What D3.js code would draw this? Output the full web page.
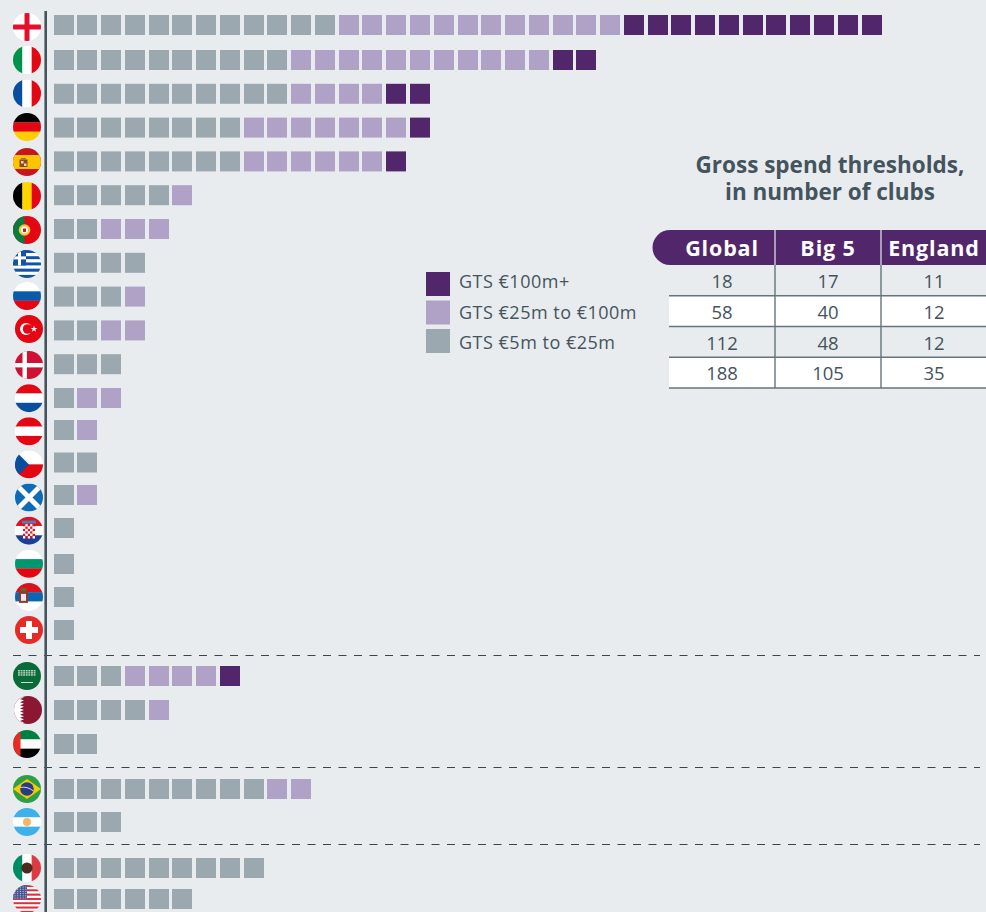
<!DOCTYPE html>
<html><head><meta charset="utf-8">
<style>html,body{margin:0;padding:0;background:#e8ecef;overflow:hidden}svg{display:block}text{font-family:"Open Sans","Noto Sans",sans-serif}</style>
<script src="https://cdn.jsdelivr.net/npm/d3@7"></script></head><body>
<script>
// ---- data ----
const countries = ["England","Italy","France","Germany","Spain","Belgium","Portugal","Greece","Russia","Turkey","Denmark","Netherlands","Austria","Czechia","Scotland","Croatia","Bulgaria","Serbia","Switzerland","Saudi Arabia","Qatar","UAE","Brazil","Argentina","Mexico","USA"];
const tierGrey  = [12,10,10,8,8,5,2,4,3,2,3,1,1,2,1,1,1,1,1,3,4,2,9,3,9,6];
const tierLight = [12,11,4,7,6,1,3,0,1,2,0,2,1,0,1,0,0,0,0,4,1,0,2,0,0,0];
const tierDark  = [11,2,2,1,1,0,0,0,0,0,0,0,0,0,0,0,0,0,0,1,0,0,0,0,0,0];
const legendLabels = ["GTS €100m+","GTS €25m to €100m","GTS €5m to €25m"];
const tableTitle = ["Gross spend thresholds,","in number of clubs"];
const tableHeaders = ["Global","Big 5","England"];
const tableValues = [[18,17,11],[58,40,12],[112,48,12],[188,105,35]];
const separatorsAfter = ["Switzerland","UAE","Argentina"];

// ---- styles ----
const W=986,H=912,C={bg:"#e8ecef",dark:"#52266b",light:"#b0a1c7",grey:"#9ca8af",ink:"#44545d",rule:"#66757c"};
const svg=d3.select("body").append("svg").attr("width",W).attr("height",H);
svg.append("rect").attr("width",W).attr("height",H).attr("fill",C.bg);

// ---- scales ----
const x=d3.scaleLinear().domain([0,34]).range([54,862]);
const y=d3.scaleLinear().domain([0,1,11,12,14,15,16,17,18,19,21,22,23,24,25]).range([15,50,388,420,485,518,554,587,620,666,734,779,812,858,889]);
const flagY=d3.scaleLinear().domain([0,1,3,4,7,8,9,10,18,19,21,22,23,24,25]).range([27,60,127,162,264,296,329,365,630,676,744,789,822,868,899]);
const flagX=d3.scaleThreshold().domain([9,19,20,21]).range([27,29,27,28,27]);
const tierColor=d3.scaleOrdinal().domain(["grey","light","dark"]).range([C.grey,C.light,C.dark]);
const SIZE=20;

// ---- squares ----
const cells=[];
countries.forEach((c,r)=>{
  let i=0;
  [["grey",tierGrey[r]],["light",tierLight[r]],["dark",tierDark[r]]].forEach(([t,n])=>{
    d3.range(n).forEach(()=>cells.push({r,i:i++,t}));
  });
});
svg.append("g").selectAll("rect").data(cells).join("rect")
  .attr("x",d=>Math.floor(x(d.i))).attr("y",d=>y(d.r)).attr("width",SIZE).attr("height",SIZE).attr("fill",d=>tierColor(d.t));

// ---- separators and axis ----
const sepY=[655.5,767.5,844.5];
svg.append("g").selectAll("line").data(separatorsAfter).join("line")
  .attr("x1",13).attr("x2",980).attr("y1",(d,i)=>sepY[i]).attr("y2",(d,i)=>sepY[i])
  .attr("stroke","#3a464d").attr("stroke-width",1).attr("stroke-dasharray","8 7.5");
svg.append("line").attr("x1",45.7).attr("x2",45.7).attr("y1",11).attr("y2",H).attr("stroke","#44545d").attr("stroke-width",2.6);

// ---- flags ----
const R=14;
const defs=svg.append("defs");
defs.append("clipPath").attr("id","flagClip").append("circle").attr("r",R);
const rect=(g,x0,y0,w,h,f)=>g.append("rect").attr("x",x0).attr("y",y0).attr("width",w).attr("height",h).attr("fill",f);
const hs=(g,cols)=>cols.forEach((c,i)=>rect(g,-R,-R+i*2*R/cols.length,2*R,2*R/cols.length+.2,c));
const vs=(g,cols)=>cols.forEach((c,i)=>rect(g,-R+i*2*R/cols.length,-R,2*R/cols.length+.2,2*R,c));
const flags={
 England:g=>{rect(g,-R,-R,28,28,"#fff");rect(g,-R,-2.5,28,5,"#e30f2c");rect(g,-2.5,-R,5,28,"#e30f2c")},
 Italy:g=>vs(g,["#00924a","#fff","#e30613"]),
 France:g=>vs(g,["#0a4ea2","#fff","#e30613"]),
 Germany:g=>hs(g,["#000","#e30613","#ffcc00"]),
 Spain:g=>{rect(g,-R,-R,28,28,"#c4161c");rect(g,-R,-7,28,14,"#ffc400");rect(g,-7.5,-2.5,8,7.5,"#8c4a2a");rect(g,-6,-1,2.5,2.5,"#e8d9b0");rect(g,-3,1.5,2.5,2.5,"#e8d9b0");rect(g,-6,-4,5,1.6,"#a8702a")},
 Belgium:g=>vs(g,["#000","#ffd500","#e30613"]),
 Portugal:g=>{rect(g,-R,-R,28,28,"#e30613");rect(g,-R,-R,11.5,28,"#0a7a3e");g.append("circle").attr("cx",-2.5).attr("r",5.8).attr("fill","#f3c53c");g.append("circle").attr("cx",-2.5).attr("r",3.4).attr("fill","#fff");rect(g,-4,-1.5,3,3.4,"#c4161c")},
 Greece:g=>{d3.range(9).forEach(i=>rect(g,-R,-R+i*28/9,28,28/9+.1,i%2?"#fff":"#1254a4"));rect(g,-R,-R,13,15.5,"#1254a4");rect(g,-R,-7.6,13,3,"#fff");rect(g,-9,-R,3,15.5,"#fff")},
 Russia:g=>hs(g,["#fff","#0a5aab","#e30613"]),
 Turkey:g=>{rect(g,-R,-R,28,28,"#e30613");g.append("circle").attr("cx",-3).attr("r",6).attr("fill","#fff");g.append("circle").attr("cx",-1.4).attr("r",4.8).attr("fill","#e30613");g.append("path").attr("d",d3.symbol(d3.symbolStar,14)()).attr("transform","translate(5,0)").attr("fill","#fff")},
 Denmark:g=>{rect(g,-R,-R,28,28,"#cf1233");rect(g,-R,-2,28,4.4,"#fff");rect(g,-6.5,-R,4.4,28,"#fff")},
 Netherlands:g=>hs(g,["#e30613","#fff","#0a4f9e"]),
 Austria:g=>hs(g,["#e30613","#fff","#e30613"]),
 Czechia:g=>{rect(g,-R,-R,28,14,"#fff");rect(g,-R,0,28,14,"#e30613");g.append("path").attr("d","M-14,-14L0,0L-14,14Z").attr("fill","#0a4f9e")},
 Scotland:g=>{rect(g,-R,-R,28,28,"#0d6cb5");g.append("path").attr("d","M-14,-14L14,14M14,-14L-14,14").attr("stroke","#fff").attr("stroke-width",5)},
 Croatia:g=>{hs(g,["#e30f22","#fff","#1a3f96"]);d3.range(5).forEach(a=>d3.range(6).forEach(b=>rect(g,-6+a*2.4,-6.5+b*2.4,2.4,2.4,(a+b)%2?"#fff":"#d9121f")));rect(g,-7,-10,14,3,"#4a7fb8")},
 Bulgaria:g=>hs(g,["#fff","#00966e","#e30613"]),
 Serbia:g=>{hs(g,["#d9121f","#0c65ae","#fff"]);rect(g,-10,-6,9,12,"#8c3a2a");rect(g,-8,-3,5,7,"#e8e8ee");rect(g,-8.5,-9,6,3.5,"#7a5a2a")},
 Switzerland:g=>{rect(g,-R,-R,28,28,"#e62a26");rect(g,-9,-3,18,6,"#fff");rect(g,-3,-9,6,18,"#fff")},
 "Saudi Arabia":g=>{rect(g,-R,-R,28,28,"#0b6b38");d3.range(3).forEach(b=>d3.range(7).forEach(a=>rect(g,-9+a*2.6,-6+b*2.1,1.9,1.5,"#b5d3bb")));rect(g,-6,6,12,.9,"#dfeee0")},
 Qatar:g=>{rect(g,-R,-R,28,28,"#8c1732");const p=[[-14,-14]];d3.range(9).forEach(i=>{p.push([-4,-14+i*28/9+1.5]);p.push([-8,-14+(i+1)*28/9])});p.push([-14,14]);g.append("path").attr("d",d3.line()(p)+"Z").attr("fill","#fff")},
 UAE:g=>{hs(g,["#00803e","#fafafa","#000"]);rect(g,-R,-R,7.5,28,"#e62a26")},
 Brazil:g=>{rect(g,-R,-R,28,28,"#2f9e44");g.append("path").attr("d","M-14,0L0,-10L14,0L0,10Z").attr("fill","#f2cd00");g.append("circle").attr("r",6.8).attr("fill","#2b3a85");g.append("path").attr("d","M-6.5,-1.5Q0,-3 6.5,2").attr("stroke","#fff").attr("stroke-width",.8).attr("fill","none")},
 Argentina:g=>{hs(g,["#3eb1e8","#fff","#3eb1e8"]);g.append("circle").attr("r",4).attr("fill","#f5b565")},
 Mexico:g=>{vs(g,["#008c62","#fff","#dc3b43"]);g.append("circle").attr("r",5.6).attr("fill","#4a2b1e")},
 USA:g=>{d3.range(13).forEach(i=>rect(g,-R,-R+i*28/13,28,28/13+.1,i%2?"#fff":"#d9323e"));rect(g,-R,-R,14,14,"#4a5a94");d3.range(5).forEach(a=>d3.range(6).forEach(b=>g.append("circle").attr("cx",-12+a*2.7).attr("cy",-12+b*2.2).attr("r",.5).attr("fill","#dfe3f0")))}
};
const fg=svg.append("g").selectAll("g").data(countries).join("g")
  .attr("transform",(d,i)=>`translate(${flagX(i)},${flagY(i)})`);
fg.append("g").attr("clip-path","url(#flagClip)").each(function(d){flags[d](d3.select(this))});

// ---- legend ----
const legendY=d3.scalePoint().domain(legendLabels).range([272,329]);
const legendTextY=d3.scalePoint().domain(legendLabels).range([288,349]);
const lg=svg.append("g");
lg.selectAll("rect").data(legendLabels).join("rect").attr("x",426).attr("y",d=>legendY(d)).attr("width",24).attr("height",24).attr("fill",(d,i)=>[C.dark,C.light,C.grey][i]);
lg.selectAll("text").data(legendLabels).join("text").attr("x",459).attr("y",d=>legendTextY(d)).attr("font-size",18).attr("letter-spacing",.5).attr("fill",C.ink).text(d=>d);

// ---- title ----
svg.append("text").attr("text-anchor","middle").attr("font-size",22.5).attr("font-weight",700).attr("fill",C.ink)
  .selectAll("tspan").data(tableTitle).join("tspan").attr("x",830).attr("y",(d,i)=>172.5+i*27).text(d=>d);

// ---- table ----
const colX=d3.scalePoint().domain(tableHeaders).range([722,934]);
const rowY=d3.scaleLinear().domain([0,4]).range([265,388]);
const t=svg.append("g");
t.append("path").attr("d","M986,230H670a17.5,17.5 0 0 0 0,35H986Z").attr("fill",C.dark);
t.selectAll("rect.r").data(tableValues).join("rect").attr("class","r")
  .attr("x",669).attr("width",W-669).attr("y",(d,i)=>rowY(i)).attr("height",rowY(1)-rowY(0)).attr("fill",(d,i)=>i%2?"#fff":C.bg);
t.selectAll("line.h").data(d3.range(1,5)).join("line").attr("class","h")
  .attr("x1",669).attr("x2",W).attr("y1",d=>rowY(d)).attr("y2",d=>rowY(d)).attr("stroke",C.rule).attr("stroke-width",1.7);
[775,881].forEach(v=>{
  t.append("line").attr("x1",v).attr("x2",v).attr("y1",230).attr("y2",265).attr("stroke","#e8ecef").attr("stroke-width",1.2);
  t.append("line").attr("x1",v).attr("x2",v).attr("y1",265).attr("y2",388).attr("stroke",C.rule).attr("stroke-width",1.4);
});
t.selectAll("text.hd").data(tableHeaders).join("text").attr("class","hd")
  .attr("x",d=>colX(d)).attr("y",256).attr("text-anchor","middle").attr("font-size",21.5).attr("letter-spacing",.85).attr("font-weight",700).attr("fill","#fff").text(d=>d);
tableValues.forEach((row,r)=>{
  t.append("g").selectAll("text").data(row).join("text")
    .attr("x",(d,i)=>colX(tableHeaders[i])).attr("y",rowY(r)+23).attr("text-anchor","middle").attr("font-size",18.5).attr("fill",C.ink).text(d=>d);
});
</script></body></html>
